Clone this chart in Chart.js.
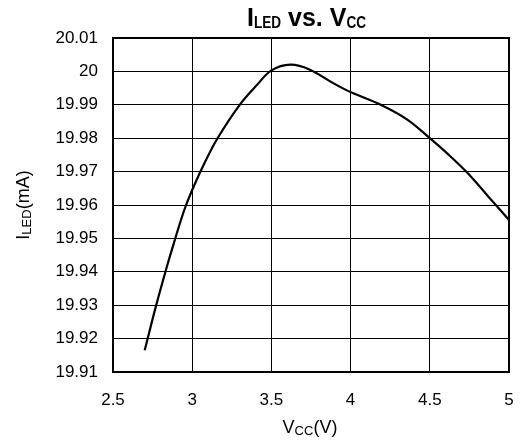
<!DOCTYPE html>
<html>
<head>
<meta charset="utf-8">
<script src="https://cdn.jsdelivr.net/npm/chart.js@4/dist/chart.umd.min.js"></script>
<style>
  html, body { margin: 0; padding: 0; background: #fff; }
  #wrap { width: 521px; height: 440px; }
</style>
</head>
<body>
<div id="wrap"><canvas id="c" width="521" height="440"></canvas></div>
<script>
// I_LED vs V_CC
const VCC  = [2.70, 2.77, 2.84, 2.89, 2.95, 3.00, 3.08, 3.16, 3.30, 3.41, 3.50, 3.62, 3.74,
              3.89, 4.00, 4.19, 4.36, 4.50, 4.62, 4.74, 4.87, 5.00];
const ILED = [19.9165, 19.9295, 19.9415, 19.9495, 19.9585, 19.9645, 19.9728, 19.980, 19.990, 19.996, 20.0003, 20.002, 20.0006,
              19.9965, 19.9938, 19.990, 19.9855, 19.980, 19.975, 19.9695, 19.9625, 19.9555];

const X_TICKS = [2.5, 3, 3.5, 4, 4.5, 5];
const Y_TICKS = [19.91, 19.92, 19.93, 19.94, 19.95, 19.96, 19.97, 19.98, 19.99, 20, 20.01];

// [text, isSubscript]
const TITLE_PARTS   = [['I', false], ['LED', true], [' vs. V', false], ['CC', true]];
const X_TITLE_PARTS = [['V', false], ['CC', true], ['(V)', false]];
const Y_TITLE_PARTS = [['I', false], ['LED', true], ['(mA)', false]];

const FONT = '"Liberation Sans", Arial, sans-serif';

// draws text with subscript pieces, centred on cx; base is the main baseline
function drawRich(ctx, parts, cx, base, st) {
  const fontOf = sub => `${st.weight} ${sub ? st.sub : st.size}px ${FONT}`;
  const widthOf = (t, sub) => { ctx.font = fontOf(sub); return ctx.measureText(t).width * (sub ? st.subSx : 1); };
  let total = 0;
  parts.forEach(([t, sub]) => { total += widthOf(t, sub); });
  let x = cx - total / 2;
  ctx.textAlign = 'left';
  ctx.textBaseline = 'alphabetic';
  ctx.fillStyle = '#000';
  parts.forEach(([t, sub]) => {
    const w = widthOf(t, sub);
    ctx.save();
    ctx.translate(x, sub ? base + st.drop : base);
    if (sub) ctx.scale(st.subSx, 1);
    ctx.fillText(t, 0, 0);
    ctx.restore();
    x += w;
  });
}

const frameAndLabels = {
  id: 'frameAndLabels',
  afterDraw(chart) {
    const { ctx, chartArea: a } = chart;
    ctx.save();
    ctx.strokeStyle = '#000';
    ctx.lineWidth = 2;
    ctx.strokeRect(a.left, a.top, a.right - a.left, a.bottom - a.top);
    drawRich(ctx, TITLE_PARTS, 306.5, 26, { weight: 'bold', size: 25, sub: 17, subSx: 0.8, drop: 1.5 });
    drawRich(ctx, X_TITLE_PARTS, 310, 433, { weight: 'normal', size: 18, sub: 13, subSx: 1, drop: 2 });
    ctx.translate(29, 205);
    ctx.rotate(-Math.PI / 2);
    drawRich(ctx, Y_TITLE_PARTS, 0, 0, { weight: 'normal', size: 18, sub: 13, subSx: 1, drop: 2 });
    ctx.restore();
  }
};

new Chart(document.getElementById('c').getContext('2d'), {
  type: 'line',
  data: {
    datasets: [{
      data: VCC.map((v, i) => ({ x: v, y: ILED[i] })),
      borderColor: '#000',
      borderWidth: 2.2,
      pointRadius: 0,
      tension: 0.35,
      fill: false,
    }],
  },
  options: {
    responsive: false,
    animation: false,
    layout: { padding: { top: 38, right: 12, left: 0, bottom: 0 } },
    scales: {
      x: {
        type: 'linear',
        min: 2.5, max: 5,
        afterBuildTicks: s => { s.ticks = X_TICKS.map(v => ({ value: v })); },
        afterFit: s => { s.height = 68; s.paddingLeft = 0; s.paddingRight = 0; },
        grid: { color: '#000', lineWidth: 1, drawTicks: false },
        border: { display: false },
        ticks: { color: '#000', font: { family: FONT, size: 17 }, padding: 18,
                 maxRotation: 0, callback: v => String(v) },
      },
      y: {
        min: 19.91, max: 20.01,
        afterBuildTicks: s => { s.ticks = Y_TICKS.map(v => ({ value: v })); },
        afterFit: s => { s.width = 113; s.paddingTop = 0; s.paddingBottom = 0; },
        grid: { color: '#000', lineWidth: 1, drawTicks: false },
        border: { display: false },
        ticks: { color: '#000', font: { family: FONT, size: 17 }, padding: 15,
                 callback: v => String(parseFloat(v.toFixed(2))) },
      },
    },
    plugins: {
      legend: { display: false },
      title: { display: false },
      tooltip: { enabled: false },
    },
  },
  plugins: [frameAndLabels],
});
</script>
</body>
</html>
